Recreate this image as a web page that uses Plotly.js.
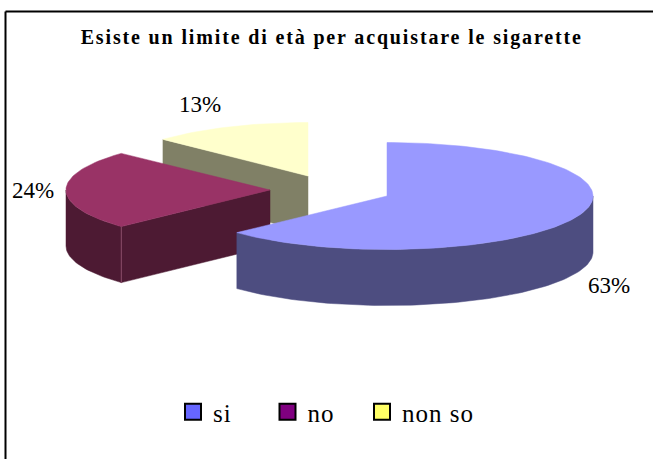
<!DOCTYPE html>
<html>
<head>
<meta charset="utf-8">
<script src="https://cdn.plot.ly/plotly-3.0.1.min.js"></script>
<style>
html,body{margin:0;padding:0;background:#fff;overflow:hidden}
.gtitle{letter-spacing:1.85px}
.legendtext{letter-spacing:1px}
.legend .scrollbox{clip-path:none !important}
</style>
</head>
<body>
<div id="chart" style="width:653px;height:459px"></div>
<script>
const categories = ["si", "no", "non so"];
const shares = [63, 24, 13];
const chartTitle = "Esiste un limite di età per acquistare le sigarette";
const topColors = ["#9999FF", "#993366", "#FFFFCC"];
const sideColors = ["#4D4D80", "#4D1A33", "#808066"];
const legendColors = ["#6666FF", "#800080", "#FFFF66"];

// Projection of the exploded tilted pie onto the pixel-scaled hidden axes
const centers = [[387, 196], [270, 190], [308, 176]];
const radiiX = [206, 204, 199];
const ry = 53.5, depth = 56;
const labelPos = [[609, 285], [33, 190], [200, 104]];
const serif = "Liberation Serif, Times New Roman, serif";

const pt = (c, rx, a, d) => {
  const r = a * Math.PI / 180;
  return [c[0] + rx * Math.sin(r), c[1] - ry * Math.cos(r) + (d || 0)];
};
const arc = (c, rx, a0, a1, d) => {
  const out = [], n = Math.max(2, Math.ceil(Math.abs(a1 - a0) / 1.5));
  for (let i = 0; i <= n; i++) out.push(pt(c, rx, a0 + (a1 - a0) * i / n, d));
  return out;
};
const poly = (pts, color) => ({
  type: "scatter", mode: "lines", fill: "toself", fillcolor: color,
  x: pts.map(p => p[0]), y: pts.map(p => p[1]),
  line: {color: color, width: 0.5}, hoverinfo: "skip", showlegend: false
});

const total = shares.reduce((a, b) => a + b, 0);
const angles = [];
let acc = 0;
shares.forEach(v => { angles.push([acc, acc + v / total * 360]); acc += v / total * 360; });

const faces = [];
// back to front: last slice, then middle, then first
[2, 1, 0].forEach(i => {
  const c = centers[i], rx = radiiX[i], a0 = angles[i][0], a1 = angles[i][1];
  const apex = [c[0], c[1]], apexLow = [c[0], c[1] + depth];
  // radial face at the leading edge, visible when it faces the viewer
  if (a0 > 180) {
    const e = pt(c, rx, a0), eLow = pt(c, rx, a0, depth);
    faces.push(poly([apex, e, eLow, apexLow, apex], sideColors[i]));
  }
  // curved rim on the front half (90..270 degrees clockwise from top)
  const s = Math.max(a0, 90), t = Math.min(a1, 270);
  if (t > s) {
    const rimTop = arc(c, rx, s, t, 0), rimLow = arc(c, rx, t, s, depth);
    faces.push(poly(rimTop.concat(rimLow, [rimTop[0]]), sideColors[i]));
  }
  if (i === 1) {
    const e = pt(c, rx, a0), eLow = pt(c, rx, a0, depth);
    faces.push({type: "scatter", mode: "lines", x: [e[0], eLow[0]], y: [e[1], eLow[1]],
      line: {color: "#8A4A68", width: 1}, hoverinfo: "skip", showlegend: false});
  }
  // top surface
  faces.push(poly([apex].concat(arc(c, rx, a0, a1, 0), [apex]), topColors[i]));
});

const legendTraces = categories.map((name, i) => ({
  type: "scatter", mode: "markers", name: name, x: [null], y: [null],
  marker: {symbol: "square", size: 16, color: legendColors[i], line: {color: "#000", width: 2}},
  hoverinfo: "skip"
}));

const annotations = shares.map((v, i) => ({
  x: labelPos[i][0], y: labelPos[i][1], xref: "x", yref: "y", text: v + "%",
  showarrow: false, xanchor: "center", yanchor: "middle",
  font: {family: serif, size: 23, color: "#000"}
}));

const layout = {
  width: 653, height: 459,
  margin: {l: 0, r: 0, t: 0, b: 0},
  paper_bgcolor: "#fff", plot_bgcolor: "#fff",
  title: {text: "<b>" + chartTitle + "</b>", x: 0.508, xanchor: "center", y: 0.92, yanchor: "middle",
    font: {family: serif, size: 20, color: "#000"}},
  xaxis: {range: [0, 653], visible: false, fixedrange: true},
  yaxis: {range: [459, 0], visible: false, fixedrange: true},
  showlegend: true,
  legend: {orientation: "h", x: 173 / 653, xanchor: "left", y: 1 - 412 / 459, yanchor: "middle",
    entrywidth: 49.5, entrywidthmode: "pixels", traceorder: "normal", itemwidth: 30,
    font: {family: serif, size: 25, color: "#000"}, bgcolor: "rgba(0,0,0,0)"},
  annotations: annotations,
  shapes: [
    {type: "line", xref: "x", yref: "y", x0: 5.5, x1: 653, y0: 11.5, y1: 11.5, line: {color: "#000", width: 2}},
    {type: "line", xref: "x", yref: "y", x0: 5.5, x1: 5.5, y0: 11.5, y1: 459, line: {color: "#000", width: 2}}
  ]
};

Plotly.newPlot("chart", faces.concat(legendTraces), layout, {displayModeBar: false, staticPlot: true});
</script>
</body>
</html>
